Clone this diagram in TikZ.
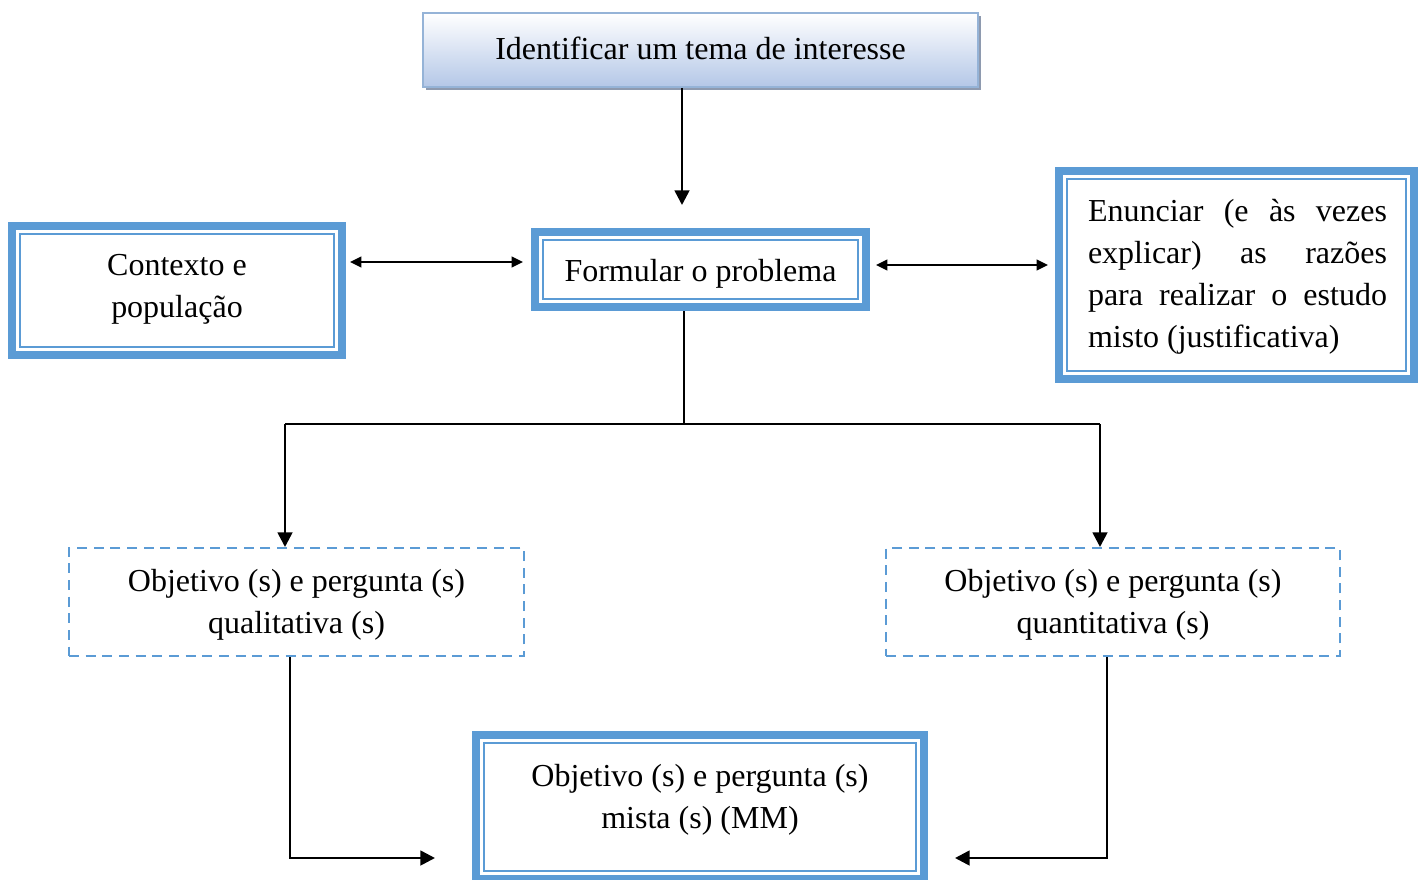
\documentclass[tikz,border=0pt]{standalone}
\usepackage{fontspec}
\setmainfont{Liberation Serif}
\usetikzlibrary{arrows.meta,shadows}
\definecolor{blu}{HTML}{5B9BD5}
\definecolor{topedge}{HTML}{95B3D7}
\definecolor{topbot}{HTML}{B4C7E7}
\definecolor{topshadow}{HTML}{8E9AAF}
\tikzset{
  txt/.style={font=\fontsize{24}{31.5}\selectfont, align=center, text=black},
  dblbox/.style={draw=blu, line width=6pt, fill=white, inner sep=0pt, outer sep=0pt, txt},
  dashbox/.style={draw=blu, line width=1.5pt, dash pattern=on 7.5pt off 5pt, inner sep=0pt, txt},
  headbox/.style={draw=topedge, line width=1.4pt, top color=white, bottom color=topbot, inner sep=0pt, txt,
    drop shadow={shadow xshift=2.4pt, shadow yshift=-2.4pt, fill=topshadow, opacity=1}},
  innerline/.style={draw=blu, line width=1.1pt},
  bigarrow/.style={line width=2pt, -{Triangle[length=11pt,width=11pt]}},
  dblarrow/.style={line width=1.5pt, {Triangle[length=8.5pt,width=8pt]}-{Triangle[length=8.5pt,width=8pt]}},
  thinline/.style={line width=0.8pt}
}
\begin{document}
\begin{tikzpicture}[x=0.75pt,y=-0.75pt]
\useasboundingbox (0,0) rectangle (1425,879);
% boxes
\node[headbox, minimum width=416.25pt, minimum height=55.5pt] (top) at (700.5,50) {};
\node[txt] (toptext) at (700.5,48) {Identificar um tema de interesse};
\node[dblbox, minimum width=247.5pt, minimum height=96.75pt] (ctx) at (177,290.5) {};
\node[txt] (ctxtext) at (177,289) {Contexto e\\população};
\node[dblbox, minimum width=248.25pt, minimum height=56.25pt] (form) at (700.5,269.5) {};
\node[txt] (formtext) at (700.5,274) {Formular o problema};
\node[dblbox, minimum width=266.25pt, minimum height=156pt] (enun) at (1236.5,275) {};
\node[txt, align=left] (enuntext) at (1237.5,277) {\makebox[224.25pt][s]{Enunciar (e às vezes}\\\makebox[224.25pt][s]{explicar) as razões}\\\makebox[224.25pt][s]{para realizar o estudo}\\misto (justificativa)};
\node[dblbox, minimum width=336pt, minimum height=108pt] (mixed) at (700,807) {};
\node[txt] (mixedtext) at (700,800) {Objetivo (s) e pergunta (s)\\mista (s) (MM)};
\node[dashbox, minimum width=341.25pt, minimum height=81pt] (qual) at (296.5,602) {};
\node[txt] (qualtext) at (296.5,605) {Objetivo (s) e pergunta (s)\\qualitativa (s)};
\node[dashbox, minimum width=340.5pt, minimum height=81pt] (quant) at (1113,602) {};
\node[txt] (quanttext) at (1113,605) {Objetivo (s) e pergunta (s)\\quantitativa (s)};
% inner thin lines of double boxes
\draw[innerline] ([xshift=6pt,yshift=-6pt]ctx.north west) rectangle ([xshift=-6pt,yshift=6pt]ctx.south east);
\draw[innerline] ([xshift=6pt,yshift=-6pt]form.north west) rectangle ([xshift=-6pt,yshift=6pt]form.south east);
\draw[innerline] ([xshift=6pt,yshift=-6pt]enun.north west) rectangle ([xshift=-6pt,yshift=6pt]enun.south east);
\draw[innerline] ([xshift=6pt,yshift=-6pt]mixed.north west) rectangle ([xshift=-6pt,yshift=6pt]mixed.south east);
% coordinates
\coordinate (t1) at (682,205);
\coordinate (c1) at (350,262);
\coordinate (c2) at (523,262);
\coordinate (f1) at (876,265);
\coordinate (f2) at (1048,265);
\coordinate (j) at (684,424);
\coordinate (hl) at (285,424);
\coordinate (hr) at (1100,424);
\coordinate (bl) at (290,858);
\coordinate (al) at (435,858);
\coordinate (br) at (1107,858);
\coordinate (ar) at (955,858);
% connectors
\draw[bigarrow] (top.south -| t1) -- (t1);
\draw[dblarrow] (c1) -- (c2);
\draw[dblarrow] (f1) -- (f2);
\draw[thinline] ([yshift=-3pt]form.south -| j) -- (j);
\draw[thinline] (hl) -- (hr);
\draw[bigarrow] (hl) -- (qual.north -| hl);
\draw[bigarrow] (hr) -- (quant.north -| hr);
\draw[thinline] (qual.south -| bl) -- (bl);
\draw[bigarrow] ([xshift=-0.4pt]bl) -- (al);
\draw[thinline] (quant.south -| br) -- (br);
\draw[bigarrow] ([xshift=0.4pt]br) -- (ar);
\end{tikzpicture}
\end{document}
